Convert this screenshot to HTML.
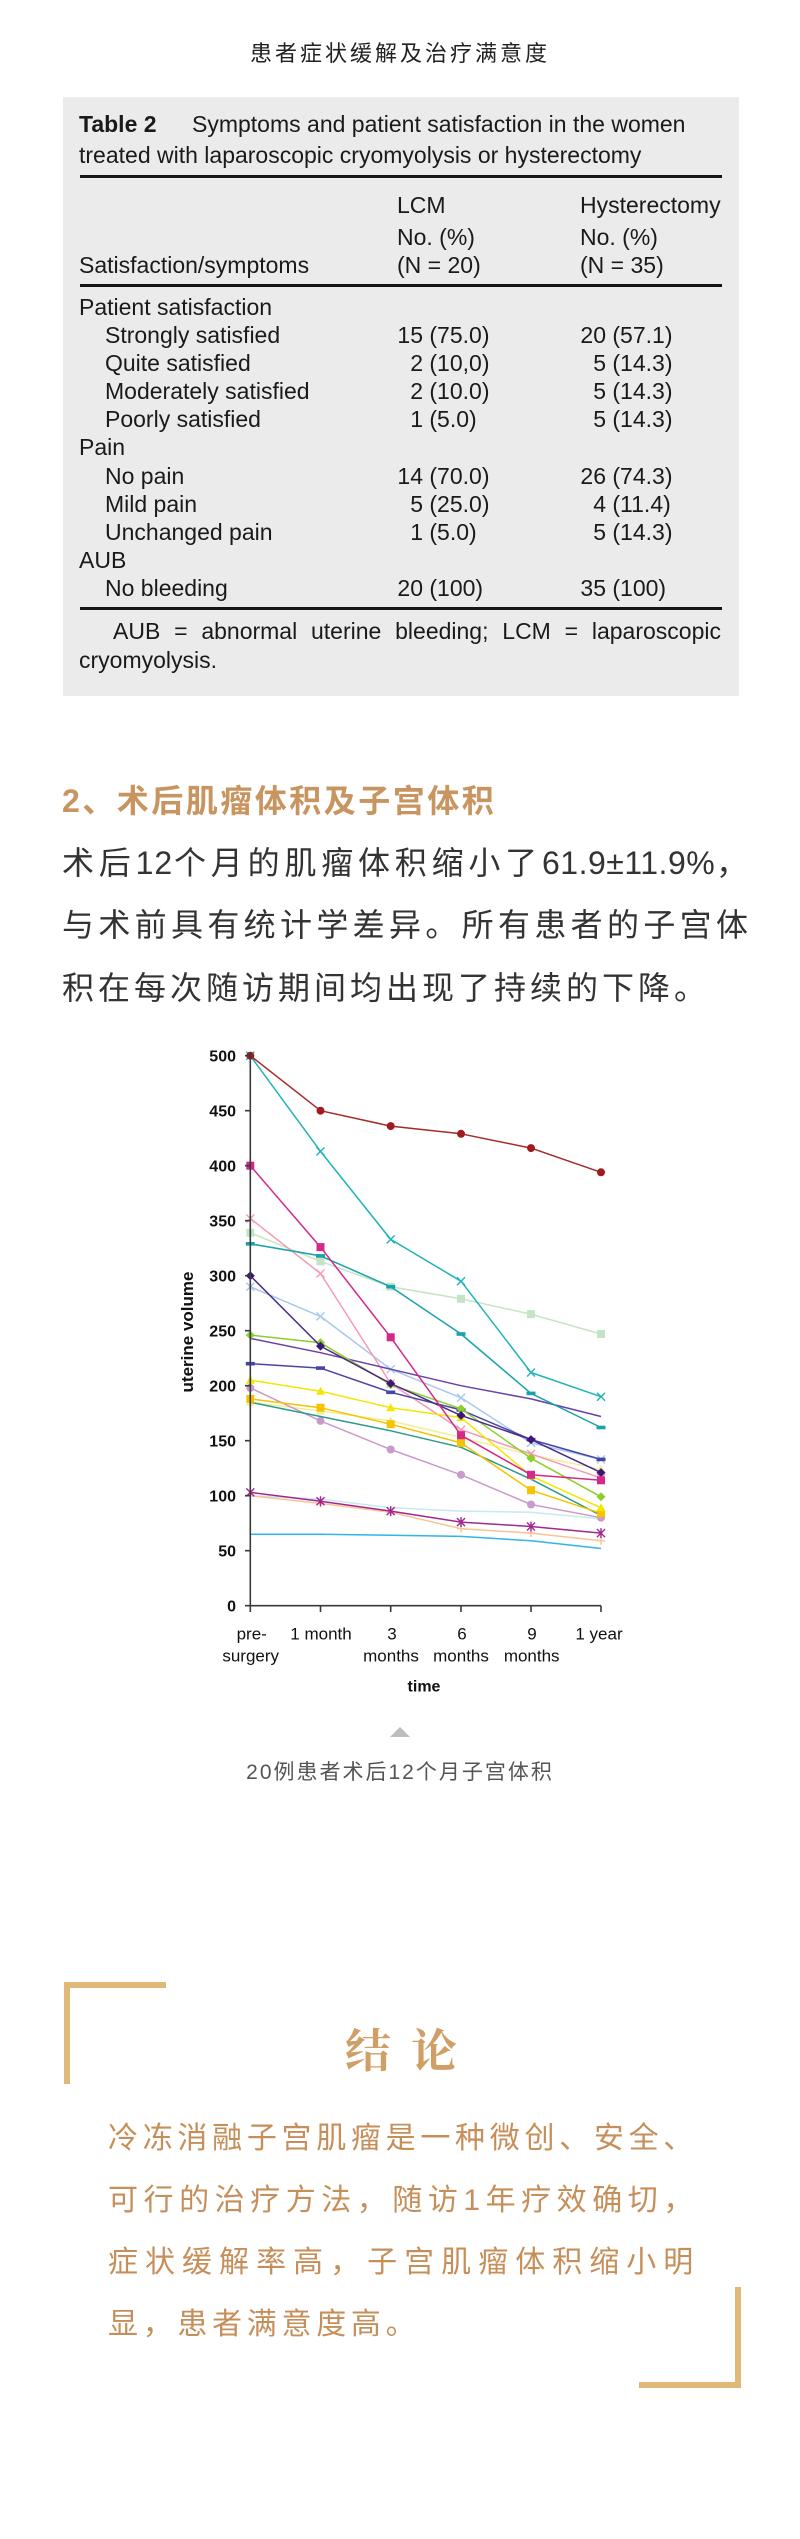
<!DOCTYPE html>
<html>
<head>
<meta charset="utf-8">
<style>
html,body{margin:0;padding:0;background:#fff;}
#page{position:relative;width:800px;height:2539px;overflow:hidden;background:#fff;}
.a{position:absolute;white-space:nowrap;}
.t{position:absolute;white-space:nowrap;font-family:"Liberation Sans",Arial,sans-serif;font-size:23px;line-height:28px;color:#1a1a1a;}
.n{display:inline-block;width:26px;text-align:right;}
.rule{position:absolute;left:80px;width:642px;height:3px;background:#151515;}
.cjk{font-family:"Liberation Sans","Noto Sans CJK SC",sans-serif;}
.body{font-size:32px;line-height:62px;letter-spacing:4px;color:#333;}
.jl{text-align:justify;text-align-last:justify;}
.conc{font-size:30px;line-height:62px;letter-spacing:4.7px;color:#c68f5a;width:590px;left:108px;}
.br{position:absolute;background:#e0b877;}
</style>
</head>
<body>
<div id="page">

<!-- Title -->
<div class="a cjk" style="left:0;width:800px;top:39px;text-align:center;font-size:22px;line-height:30px;letter-spacing:3px;color:#222;">患者症状缓解及治疗满意度</div>

<!-- Table box -->
<div class="a" style="left:63px;top:97px;width:676px;height:599px;background:#ebebeb;"></div>

<div class="t" style="left:79px;top:110px;"><b>Table 2</b></div>
<div class="t" style="left:192px;top:110px;">Symptoms and patient satisfaction in the women</div>
<div class="t" style="left:79px;top:141px;">treated with laparoscopic cryomyolysis or hysterectomy</div>
<div class="rule" style="top:175px;"></div>

<div class="t" style="left:397px;top:191px;">LCM</div>
<div class="t" style="left:397px;top:223px;">No. (%)</div>
<div class="t" style="left:397px;top:251px;">(N = 20)</div>
<div class="t" style="left:580px;top:191px;">Hysterectomy</div>
<div class="t" style="left:580px;top:223px;">No. (%)</div>
<div class="t" style="left:580px;top:251px;">(N = 35)</div>
<div class="t" style="left:79px;top:251px;">Satisfaction/symptoms</div>
<div class="rule" style="top:284px;"></div>

<div class="t" style="left:79px;top:293px;">Patient satisfaction</div>
<div class="t" style="left:105px;top:321px;">Strongly satisfied</div>
<div class="t" style="left:397px;top:321px;"><span class="n">15</span> (75.0)</div>
<div class="t" style="left:580px;top:321px;"><span class="n">20</span> (57.1)</div>
<div class="t" style="left:105px;top:349px;">Quite satisfied</div>
<div class="t" style="left:397px;top:349px;"><span class="n">2</span> (10,0)</div>
<div class="t" style="left:580px;top:349px;"><span class="n">5</span> (14.3)</div>
<div class="t" style="left:105px;top:377px;">Moderately satisfied</div>
<div class="t" style="left:397px;top:377px;"><span class="n">2</span> (10.0)</div>
<div class="t" style="left:580px;top:377px;"><span class="n">5</span> (14.3)</div>
<div class="t" style="left:105px;top:405px;">Poorly satisfied</div>
<div class="t" style="left:397px;top:405px;"><span class="n">1</span> (5.0)</div>
<div class="t" style="left:580px;top:405px;"><span class="n">5</span> (14.3)</div>
<div class="t" style="left:79px;top:433px;">Pain</div>
<div class="t" style="left:105px;top:462px;">No pain</div>
<div class="t" style="left:397px;top:462px;"><span class="n">14</span> (70.0)</div>
<div class="t" style="left:580px;top:462px;"><span class="n">26</span> (74.3)</div>
<div class="t" style="left:105px;top:490px;">Mild pain</div>
<div class="t" style="left:397px;top:490px;"><span class="n">5</span> (25.0)</div>
<div class="t" style="left:580px;top:490px;"><span class="n">4</span> (11.4)</div>
<div class="t" style="left:105px;top:518px;">Unchanged pain</div>
<div class="t" style="left:397px;top:518px;"><span class="n">1</span> (5.0)</div>
<div class="t" style="left:580px;top:518px;"><span class="n">5</span> (14.3)</div>
<div class="t" style="left:79px;top:546px;">AUB</div>
<div class="t" style="left:105px;top:574px;">No bleeding</div>
<div class="t" style="left:397px;top:574px;"><span class="n">20</span> (100)</div>
<div class="t" style="left:580px;top:574px;"><span class="n">35</span> (100)</div>
<div class="rule" style="top:607px;"></div>

<div class="t jl" style="left:113px;top:617px;width:608px;">AUB = abnormal uterine bleeding; LCM = laparoscopic</div>
<div class="t" style="left:79px;top:646px;">cryomyolysis.</div>

<!-- Section heading -->
<div class="a cjk" style="left:62px;top:781px;font-size:32px;line-height:40px;letter-spacing:2.5px;font-weight:bold;color:#c8945f;">2、术后肌瘤体积及子宫体积</div>

<!-- Body text -->
<div class="a cjk body jl" style="left:62px;top:832px;width:690px;">术后<span style="letter-spacing:1px">12</span>个月的肌瘤体积缩小了<span style="letter-spacing:0.5px">61.9±11.9%</span>，</div>
<div class="a cjk body jl" style="left:62px;top:894px;width:690px;">与术前具有统计学差异。所有患者的子宫体</div>
<div class="a cjk body" style="left:62px;top:957px;">积在每次随访期间均出现了持续的下降。</div>

<!-- Chart -->
<svg class="a" style="left:0;top:1030px;" width="800" height="730" viewBox="0 1030 800 730" xmlns="http://www.w3.org/2000/svg">
<defs>
<marker id="m1" markerUnits="userSpaceOnUse" markerWidth="12" markerHeight="12" viewBox="-6 -6 12 12" refX="0" refY="0" overflow="visible"><circle r="4" fill="#9e1b1f"/></marker>
<marker id="m2" markerUnits="userSpaceOnUse" markerWidth="12" markerHeight="12" viewBox="-6 -6 12 12" refX="0" refY="0" overflow="visible"><path d="M-4,-4L4,4M-4,4L4,-4" stroke="#1fb3b8" stroke-width="1.4" fill="none"/></marker>
<marker id="m3" markerUnits="userSpaceOnUse" markerWidth="12" markerHeight="12" viewBox="-6 -6 12 12" refX="0" refY="0" overflow="visible"><rect x="-4" y="-4" width="8" height="8" fill="#d4288a"/></marker>
<marker id="m4" markerUnits="userSpaceOnUse" markerWidth="12" markerHeight="12" viewBox="-6 -6 12 12" refX="0" refY="0" overflow="visible"><path d="M-4,-4L4,4M-4,4L4,-4" stroke="#f59ab4" stroke-width="1.4" fill="none"/></marker>
<marker id="m5" markerUnits="userSpaceOnUse" markerWidth="12" markerHeight="12" viewBox="-6 -6 12 12" refX="0" refY="0" overflow="visible"><rect x="-4" y="-4" width="8" height="8" fill="#c5e4c5"/></marker>
<marker id="m6" markerUnits="userSpaceOnUse" markerWidth="12" markerHeight="12" viewBox="-6 -6 12 12" refX="0" refY="0" overflow="visible"><rect x="-4.5" y="-1.8" width="9" height="3.6" fill="#17a3ac"/></marker>
<marker id="m7" markerUnits="userSpaceOnUse" markerWidth="12" markerHeight="12" viewBox="-6 -6 12 12" refX="0" refY="0" overflow="visible"><path d="M0,-4.5L4.5,0L0,4.5L-4.5,0Z" fill="#3b1877"/></marker>
<marker id="m8" markerUnits="userSpaceOnUse" markerWidth="12" markerHeight="12" viewBox="-6 -6 12 12" refX="0" refY="0" overflow="visible"><path d="M-4,-4L4,4M-4,4L4,-4" stroke="#a8c8ee" stroke-width="1.4" fill="none"/></marker>
<marker id="m9" markerUnits="userSpaceOnUse" markerWidth="12" markerHeight="12" viewBox="-6 -6 12 12" refX="0" refY="0" overflow="visible"><path d="M0,-4.5L4.5,0L0,4.5L-4.5,0Z" fill="#8ccf2a"/></marker>
<marker id="m11" markerUnits="userSpaceOnUse" markerWidth="12" markerHeight="12" viewBox="-6 -6 12 12" refX="0" refY="0" overflow="visible"><rect x="-4.5" y="-1.8" width="9" height="3.6" fill="#4a45a5"/></marker>
<marker id="m12" markerUnits="userSpaceOnUse" markerWidth="12" markerHeight="12" viewBox="-6 -6 12 12" refX="0" refY="0" overflow="visible"><path d="M0,-4.5L4.5,3.5L-4.5,3.5Z" fill="#f3e600"/></marker>
<marker id="m13" markerUnits="userSpaceOnUse" markerWidth="12" markerHeight="12" viewBox="-6 -6 12 12" refX="0" refY="0" overflow="visible"><rect x="-4" y="-4" width="8" height="8" fill="#f6c300"/></marker>
<marker id="m14" markerUnits="userSpaceOnUse" markerWidth="12" markerHeight="12" viewBox="-6 -6 12 12" refX="0" refY="0" overflow="visible"><path d="M0,-4.5L4.5,3.5L-4.5,3.5Z" fill="#f2ee98"/></marker>
<marker id="m16" markerUnits="userSpaceOnUse" markerWidth="12" markerHeight="12" viewBox="-6 -6 12 12" refX="0" refY="0" overflow="visible"><circle r="4" fill="#c99bcb"/></marker>
<marker id="m17" markerUnits="userSpaceOnUse" markerWidth="12" markerHeight="12" viewBox="-6 -6 12 12" refX="0" refY="0" overflow="visible"><path d="M-4,-4L4,4M-4,4L4,-4M0,-5V5" stroke="#a3278f" stroke-width="1.4" fill="none"/></marker>
<marker id="m18" markerUnits="userSpaceOnUse" markerWidth="12" markerHeight="12" viewBox="-6 -6 12 12" refX="0" refY="0" overflow="visible"><path d="M-4,0H4M0,-4V4" stroke="#f8c395" stroke-width="1.4" fill="none"/></marker>
</defs>

<g fill="none" stroke-width="1.5" stroke-linejoin="round">
<polyline stroke="#c6eaef" points="250.3,1495.7 320.5,1499.0 390.7,1507.8 461,1511.1 531,1512.2 601,1518.8"/>
<polyline stroke="#2fb5e6" points="250.3,1534.2 320.5,1534.2 390.7,1535.3 461,1536.4 531,1540.8 601,1548.5"/>
<polyline stroke="#f8c395" marker-start="url(#m18)" marker-mid="url(#m18)" marker-end="url(#m18)" points="250.3,1495.7 320.5,1503.4 390.7,1512.2 461,1528.7 531,1533.1 601,1540.8"/>
<polyline stroke="#a3278f" marker-start="url(#m17)" marker-mid="url(#m17)" marker-end="url(#m17)" points="250.3,1492.4 320.5,1501.2 390.7,1511.1 461,1522.1 531,1526.5 601,1533.1"/>
<polyline stroke="#c5e4c5" marker-start="url(#m5)" marker-mid="url(#m5)" marker-end="url(#m5)" points="250.3,1232.8 320.5,1261.4 390.7,1286.7 461,1298.8 531,1314.2 601,1334.0"/>
<polyline stroke="#f2ee98" marker-start="url(#m14)" marker-mid="url(#m14)" marker-end="url(#m14)" points="250.3,1402.2 320.5,1411.0 390.7,1420.9 461,1437.4 531,1455.0 601,1469.3"/>
<polyline stroke="#a8c8ee" marker-start="url(#m8)" marker-mid="url(#m8)" marker-end="url(#m8)" points="250.3,1286.7 320.5,1316.4 390.7,1369.2 461,1397.8 531,1442.9 601,1459.4"/>
<polyline stroke="#f59ab4" marker-start="url(#m4)" marker-mid="url(#m4)" marker-end="url(#m4)" points="250.3,1218.5 320.5,1273.5 390.7,1383.5 461,1429.7 531,1453.9 601,1478.1"/>
<polyline stroke="#c99bcb" marker-start="url(#m16)" marker-mid="url(#m16)" marker-end="url(#m16)" points="250.3,1387.9 320.5,1420.9 390.7,1449.5 461,1474.8 531,1504.5 601,1517.7"/>
<polyline stroke="#2a9a8f" points="250.3,1402.2 320.5,1416.5 390.7,1430.8 461,1447.3 531,1479.2 601,1515.5"/>
<polyline stroke="#f6c300" marker-start="url(#m13)" marker-mid="url(#m13)" marker-end="url(#m13)" points="250.3,1398.9 320.5,1407.7 390.7,1424.2 461,1442.9 531,1490.2 601,1513.3"/>
<polyline stroke="#f3e600" marker-start="url(#m12)" marker-mid="url(#m12)" marker-end="url(#m12)" points="250.3,1380.2 320.5,1391.2 390.7,1407.7 461,1417.6 531,1475.9 601,1507.8"/>
<polyline stroke="#4a45a5" marker-start="url(#m11)" marker-mid="url(#m11)" marker-end="url(#m11)" points="250.3,1363.7 320.5,1368.1 390.7,1392.3 461,1409.9 531,1439.6 601,1459.4"/>
<polyline stroke="#6b3fa6" points="250.3,1338.4 320.5,1352.7 390.7,1369.2 461,1385.7 531,1398.9 601,1416.5"/>
<polyline stroke="#8ccf2a" marker-start="url(#m9)" marker-mid="url(#m9)" marker-end="url(#m9)" points="250.3,1335.1 320.5,1342.8 390.7,1384.6 461,1408.8 531,1458.3 601,1496.8"/>
<polyline stroke="#4a2a8a" marker-start="url(#m7)" marker-mid="url(#m7)" marker-end="url(#m7)" points="250.3,1275.7 320.5,1346.1 390.7,1383.5 461,1415.4 531,1439.6 601,1472.6"/>
<polyline stroke="#17a3ac" marker-start="url(#m6)" marker-mid="url(#m6)" marker-end="url(#m6)" points="250.3,1243.8 320.5,1255.9 390.7,1286.7 461,1334.0 531,1393.4 601,1427.5"/>
<polyline stroke="#d4288a" marker-start="url(#m3)" marker-mid="url(#m3)" marker-end="url(#m3)" points="250.3,1165.7 320.5,1247.1 390.7,1337.3 461,1435.2 531,1474.8 601,1480.3"/>
<polyline stroke="#1fb3b8" marker-start="url(#m2)" marker-mid="url(#m2)" marker-end="url(#m2)" points="250.3,1055.7 320.5,1151.4 390.7,1239.4 461,1281.2 531,1372.5 601,1396.7"/>
<polyline stroke="#a52a2a" marker-start="url(#m1)" marker-mid="url(#m1)" marker-end="url(#m1)" points="250.3,1055.7 320.5,1110.7 390.7,1126.1 461,1133.8 531,1148.1 601,1172.3"/>
</g>

<!-- axes -->
<g stroke="#3a3a3a" stroke-width="1.6" fill="none">
<path d="M250.3 1052 V1605.7 H601"/>
<path d="M245 1605.7H250.3M245 1550.7H250.3M245 1495.7H250.3M245 1440.7H250.3M245 1385.7H250.3M245 1330.7H250.3M245 1275.7H250.3M245 1220.7H250.3M245 1165.7H250.3M245 1110.7H250.3M245 1055.7H250.3"/>
<path d="M250.3 1605.7V1612M320.5 1605.7V1612M390.7 1605.7V1612M461 1605.7V1612M531 1605.7V1612M601 1605.7V1612"/>
</g>

<g font-family="Liberation Sans, Arial, sans-serif" font-size="16" font-weight="bold" fill="#111" text-anchor="end">
<text x="236" y="1061.7">500</text>
<text x="236" y="1116.7">450</text>
<text x="236" y="1171.7">400</text>
<text x="236" y="1226.7">350</text>
<text x="236" y="1281.7">300</text>
<text x="236" y="1336.7">250</text>
<text x="236" y="1391.7">200</text>
<text x="236" y="1446.7">150</text>
<text x="236" y="1501.7">100</text>
<text x="236" y="1556.7">50</text>
<text x="236" y="1611.7">0</text>
</g>

<g font-family="Liberation Sans, Arial, sans-serif" font-size="17" fill="#111" text-anchor="middle">
<text x="251.7" y="1639.3">pre-</text>
<text x="250.7" y="1661.7">surgery</text>
<text x="321" y="1639.3">1 month</text>
<text x="392" y="1639.3">3</text>
<text x="391" y="1661.7">months</text>
<text x="462" y="1639.3">6</text>
<text x="461" y="1661.7">months</text>
<text x="532" y="1639.3">9</text>
<text x="531.7" y="1661.7">months</text>
<text x="599" y="1639.3">1 year</text>
</g>
<text x="424" y="1691.7" font-family="Liberation Sans, Arial, sans-serif" font-size="16" font-weight="bold" fill="#111" text-anchor="middle">time</text>
<text transform="translate(193,1332) rotate(-90)" x="0" y="0" font-family="Liberation Sans, Arial, sans-serif" font-size="17" font-weight="bold" fill="#111" text-anchor="middle">uterine volume</text>

<polygon points="390,1737 410,1737 400,1727" fill="#bdbdbd"/>
</svg>

<!-- Caption -->
<div class="a cjk" style="left:0;width:800px;top:1758px;text-align:center;font-size:21px;line-height:30px;letter-spacing:2px;color:#555;">20例患者术后12个月子宫体积</div>

<!-- Conclusion -->
<div class="br" style="left:64px;top:1982px;width:102px;height:6px;"></div>
<div class="br" style="left:64px;top:1982px;width:6px;height:102px;"></div>
<div class="br" style="left:735px;top:2287px;width:6px;height:101px;"></div>
<div class="br" style="left:639px;top:2382px;width:102px;height:6px;"></div>

<div class="a" style="left:345px;top:2022px;font-family:'Liberation Serif','Noto Serif CJK SC',serif;font-size:46px;line-height:60px;font-weight:bold;letter-spacing:20px;color:#cf9f66;">结论</div>

<div class="a cjk conc jl" style="top:2108px;">冷冻消融子宫肌瘤是一种微创、安全、</div>
<div class="a cjk conc jl" style="top:2170px;">可行的治疗方法，随访1年疗效确切，</div>
<div class="a cjk conc jl" style="top:2232px;">症状缓解率高，子宫肌瘤体积缩小明</div>
<div class="a cjk conc" style="top:2294px;">显，患者满意度高。</div>

</div>
</body>
</html>
